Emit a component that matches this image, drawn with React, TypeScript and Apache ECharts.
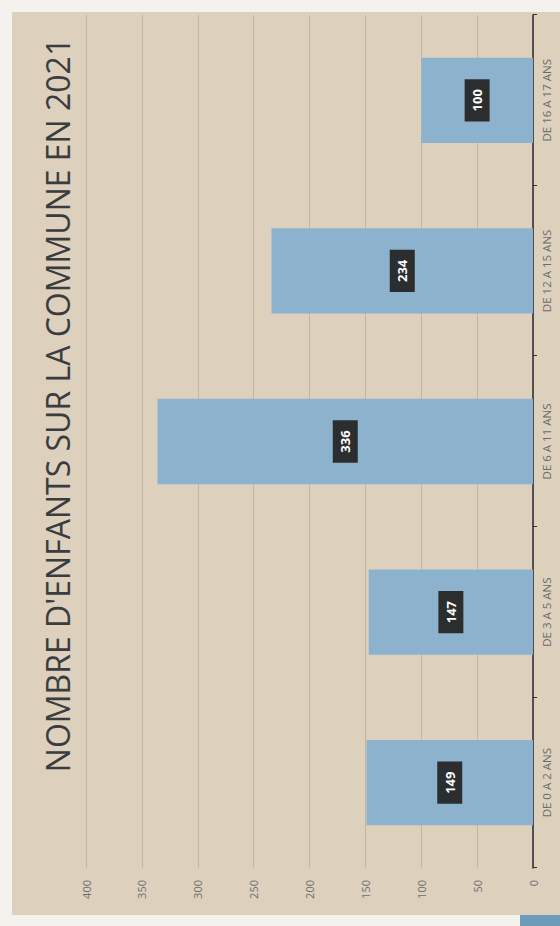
import React, { useEffect, useRef } from "react";
import * as echarts from "echarts";

const TITLE = "NOMBRE D'ENFANTS SUR LA COMMUNE EN 2021";
const categories = ["DE 0 A 2 ANS", "DE 3 A 5 ANS", "DE 6 A 11 ANS", "DE 12 A 15 ANS", "DE 16 A 17 ANS"];
const values = [149, 147, 336, 234, 100];
const valueTicks = { min: 0, max: 400, interval: 50 };

export default function App() {
  const ref = useRef<HTMLDivElement>(null);
  useEffect(() => {
    if (!ref.current) return;
    const chart = echarts.init(ref.current, null, { renderer: "svg", width: 926, height: 560 });
    chart.setOption({
      animation: false,
      backgroundColor: "transparent",
      textStyle: { fontFamily: "Open Sans" },
      title: {
        text: TITLE,
        left: 516,
        top: 36,
        textAlign: "center",
        textStyle: { fontFamily: "Open Sans", fontSize: 32, fontWeight: "normal", color: "#3a3c3f" },
      },
      grid: { left: 58, right: 15, top: 86, bottom: 27 },
      xAxis: {
        type: "category",
        data: categories,
        axisLine: { show: true, lineStyle: { color: "#2f3336", width: 1.6 } },
        axisTick: { show: true, length: 4, lineStyle: { color: "#2f3336" } },
        axisLabel: { color: "#6b6b6b", fontSize: 11.5, margin: 7, fontFamily: "Open Sans" },
      },
      yAxis: {
        type: "value",
        min: valueTicks.min,
        max: valueTicks.max,
        interval: valueTicks.interval,
        axisLine: { show: false },
        axisTick: { show: false },
        axisLabel: { color: "#6e6e6e", fontSize: 11, margin: 12 },
        splitLine: { show: true, lineStyle: { color: "rgba(120,115,100,0.28)", width: 1 } },
      },
      series: [
        {
          type: "bar",
          data: values,
          barWidth: "50%",
          itemStyle: { color: "#8db2ce" },
          label: {
            show: true,
            position: "inside",
            color: "#ffffff",
            fontWeight: "bold",
            fontSize: 13,
            backgroundColor: "#2b2d2e",
            padding: [6, 10],
          },
        },
      ],
    });
    return () => chart.dispose();
  }, []);

  return (
    <div style={{ position: "fixed", left: 0, top: 0, width: 560, height: 926, background: "#f4f2ef", overflow: "hidden" }}>
      <div style={{ position: "absolute", left: 12, top: 12, width: 548, height: 903, background: "#ddd0bd" }} />
      <div style={{ position: "absolute", left: 520, top: 915, width: 40, height: 11, background: "#6f9bbb" }} />
      <div
        ref={ref}
        style={{
          position: "absolute",
          left: 0,
          top: 0,
          width: 926,
          height: 560,
          transformOrigin: "0 0",
          transform: "translate(0px, 926px) rotate(-90deg)",
        }}
      />
    </div>
  );
}
